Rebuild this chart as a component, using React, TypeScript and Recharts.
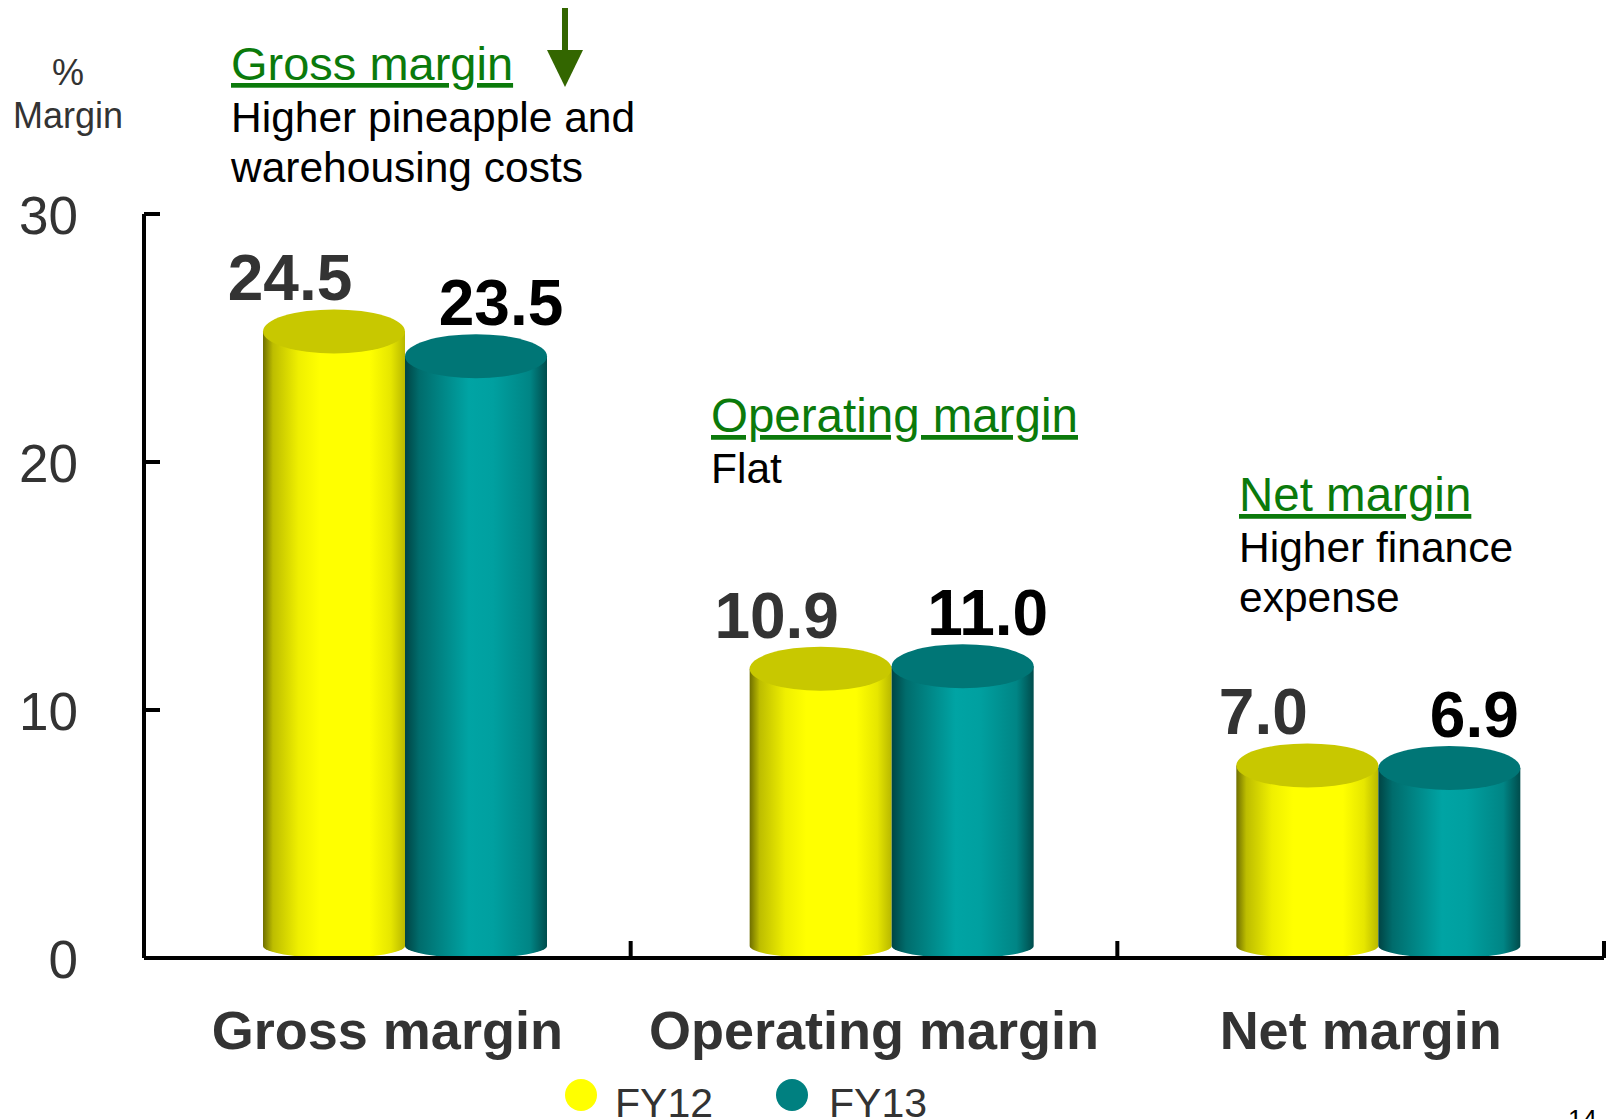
import { BarChart, Bar, XAxis, YAxis, LabelList } from 'recharts';

const categories = ['Gross margin', 'Operating margin', 'Net margin'];
const fy12 = [24.5, 10.9, 7.0];
const fy13 = [23.5, 11.0, 6.9];
const yTicks = [0, 10, 20, 30];

const series = [
  { key: 'fy12', name: 'FY12', legend: '#ffff00', top: '#c8c800', grad: 'cyl-yellow', labelColor: '#333', labelDx: -44 },
  { key: 'fy13', name: 'FY13', legend: '#008080', top: '#007676', grad: 'cyl-teal', labelColor: '#000', labelDx: 25 },
];

const data = categories.map((name, i) => ({ name, fy12: fy12[i], fy13: fy13[i] }));

const FONT = '"Liberation Sans", Arial, Helvetica, sans-serif';
const DEPTH = 18; // 3d shift of the cylinders
const underline = { textDecoration: 'underline', textDecorationThickness: 3 };

function Cylinder(props: any) {
  const { x, y, width, height, grad, top } = props;
  const rx = width / 2;
  const cx = x + rx + DEPTH;
  const ry = 22;
  const topY = y - 19;
  const ryb = 12;
  const botY = y + height - ryb;
  const body = `M ${cx - rx} ${topY} L ${cx - rx} ${botY} A ${rx} ${ryb} 0 0 0 ${cx + rx} ${botY} L ${cx + rx} ${topY} Z`;
  return (
    <g>
      <path d={body} fill={`url(#${grad})`} />
      <ellipse cx={cx} cy={topY} rx={rx} ry={ry} fill={top} />
    </g>
  );
}

function ValueLabel(props: any) {
  const { x, y, width, value, fill, dx } = props;
  return (
    <text
      x={x + width / 2 + DEPTH + dx}
      y={y - 50}
      textAnchor="middle"
      fontFamily={FONT}
      fontWeight="bold"
      fontSize={64}
      fill={fill}
    >
      {Number(value).toFixed(1)}
    </text>
  );
}

function CategoryTick(props: any) {
  const { x, y, payload } = props;
  const half = payload.offset || 243;
  return (
    <g>
      <line x1={x + half} y1={y} x2={x + half} y2={y - 17} stroke="#000" strokeWidth={4} />
      <text x={x} y={y + 91} textAnchor="middle" fontFamily={FONT} fontWeight="bold" fontSize={54} fill="#333">
        {payload.value}
      </text>
    </g>
  );
}

function ValueTick(props: any) {
  const { x, y, payload } = props;
  return (
    <g>
      <line x1={x} y1={y} x2={x + 16} y2={y} stroke="#000" strokeWidth={4} />
      <text x={x - 66} y={y + 20} textAnchor="end" fontFamily={FONT} fontSize={53} fill="#333">
        {payload.value}
      </text>
    </g>
  );
}

export default function App() {
  return (
    <div style={{ position: 'absolute', left: 0, top: 0, width: 1612, height: 1119, background: '#fff' }}>
      <BarChart
        width={1612}
        height={1119}
        data={data}
        margin={{ top: 214, right: 8, left: 64, bottom: 101 }}
        barGap={0}
        barCategoryGap={0}
      >
        <defs>
          <linearGradient id="cyl-yellow" x1="0" y1="0" x2="1" y2="0">
            <stop offset="0%" stopColor="#6f6f00" />
            <stop offset="7%" stopColor="#bdbd00" />
            <stop offset="25%" stopColor="#efef00" />
            <stop offset="40%" stopColor="#ffff00" />
            <stop offset="75%" stopColor="#ffff00" />
            <stop offset="90%" stopColor="#e6e600" />
            <stop offset="100%" stopColor="#b8b800" />
          </linearGradient>
          <linearGradient id="cyl-teal" x1="0" y1="0" x2="1" y2="0">
            <stop offset="0%" stopColor="#004444" />
            <stop offset="10%" stopColor="#006c6c" />
            <stop offset="45%" stopColor="#00a4a4" />
            <stop offset="62%" stopColor="#00a0a0" />
            <stop offset="88%" stopColor="#008585" />
            <stop offset="100%" stopColor="#004c4c" />
          </linearGradient>
        </defs>
        <XAxis
          dataKey="name"
          height={60}
          axisLine={{ stroke: '#000', strokeWidth: 4 }}
          tickLine={false}
          tickSize={0}
          tickMargin={0}
          interval={0}
          tick={<CategoryTick />}
        />
        <YAxis
          width={80}
          domain={[0, 30]}
          ticks={yTicks}
          axisLine={{ stroke: '#000', strokeWidth: 4 }}
          tickLine={false}
          tickSize={0}
          tickMargin={0}
          tick={<ValueTick />}
        />
        {series.map((s) => (
          <Bar
            key={s.key}
            dataKey={s.key}
            name={s.name}
            barSize={142}
            isAnimationActive={false}
            shape={(p: any) => <Cylinder {...p} grad={s.grad} top={s.top} />}
          >
            <LabelList
              dataKey={s.key}
              content={(p: any) => <ValueLabel {...p} fill={s.labelColor} dx={s.labelDx} />}
            />
          </Bar>
        ))}
      </BarChart>
      <svg
        width={1612}
        height={1119}
        style={{ position: 'absolute', left: 0, top: 0, pointerEvents: 'none' }}
        fontFamily={FONT}
      >
        <text x={68} y={85} textAnchor="middle" fontSize={36} fill="#333">%</text>
        <text x={68} y={128} textAnchor="middle" fontSize={36} fill="#333">Margin</text>

        <text x={231} y={80} fontSize={47} fill="#0b7a0b" style={underline}>Gross margin</text>
        <line x1={565} y1={8} x2={565} y2={66} stroke="#336600" strokeWidth={6} />
        <polygon points="547,50 583,50 565,87" fill="#336600" />
        <text x={231} y={132} fontSize={42.5} fill="#000">Higher pineapple and</text>
        <text x={231} y={182} fontSize={42.5} fill="#000">warehousing costs</text>

        <text x={711} y={432} fontSize={47.5} fill="#0b7a0b" style={underline}>Operating margin</text>
        <text x={711} y={483} fontSize={42.5} fill="#000">Flat</text>

        <text x={1239} y={511} fontSize={47.5} fill="#0b7a0b" style={underline}>Net margin</text>
        <text x={1239} y={562} fontSize={42.5} fill="#000">Higher finance</text>
        <text x={1239} y={612} fontSize={42.5} fill="#000">expense</text>

        {series.map((s, i) => (
          <g key={s.key}>
            <circle cx={581 + i * 211} cy={1095} r={16} fill={s.legend} />
            <text x={615 + i * 214} y={1117} fontSize={41} fill="#333">{s.name}</text>
          </g>
        ))}
        <text x={1568} y={1128} fontSize={26} fill="#000">14</text>
      </svg>
    </div>
  );
}
